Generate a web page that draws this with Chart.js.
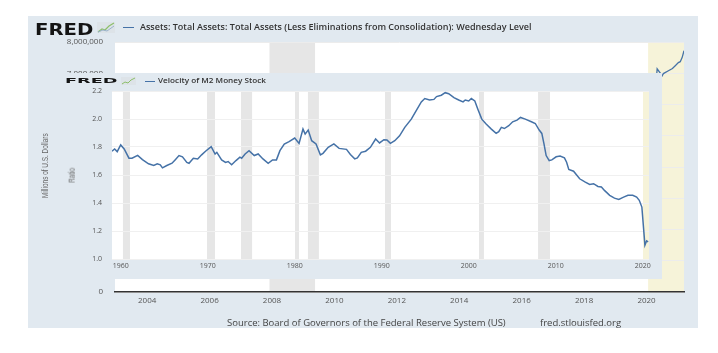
<!DOCTYPE html>
<html>
<head>
<meta charset="utf-8">
<script src="https://cdn.jsdelivr.net/npm/chart.js@4"></script>
<style>
  body { margin: 0; background: #fff; width: 718px; height: 353px; overflow: hidden; font-family: "Open Sans", sans-serif; position: relative; }
  .panel { position: absolute; background: #e1e9f0; }
  #outer { left: 28px; top: 16px; width: 670px; height: 312px; }
  #inset { left: 55px; top: 73px; width: 607px; height: 206px; }
  canvas { position: absolute; left: 0; top: 0; }
  .abs { position: absolute; white-space: nowrap; }
  .logo { font-family: "DejaVu Sans", sans-serif; font-weight: bold; color: #141414; transform-origin: 0 0; line-height: 1; }
  .ttl { font-weight: 600; color: #333; line-height: 1; transform-origin: 0 50%; }
  .dash { position: absolute; height: 1.2px; background: #4572a7; }
  .rot { color: #666; transform-origin: 50% 50%; line-height: 1; font-family: "Liberation Sans", sans-serif; }
  .src { color: #444; font-size: 9.5px; line-height: 1; }
</style>
</head>
<body>
<div id="outer" class="panel"><canvas id="outerCanvas" width="670" height="312"></canvas></div>
<div id="inset" class="panel"><canvas id="insetCanvas" width="607" height="206"></canvas></div>

<!-- outer header -->
<div class="abs logo" id="logo1" style="left:35px;top:22.5px;font-size:15px;">FRED</div>
<svg class="abs" style="left:97px;top:22px" width="18" height="11"><rect width="18" height="11" fill="#dde3e8"/><polyline points="1,10 5,7 8,8 12,4 17,1" fill="none" stroke="#8cbf6a" stroke-width="1.2"/><polyline points="1,10 6,8 10,9 17,4" fill="none" stroke="#9bb3cc" stroke-width="1"/></svg>
<div class="dash" style="left:123px;top:27px;width:11px;"></div>
<div class="abs ttl" id="title1" style="left:140px;top:23px;font-size:8.5px;">Assets: Total Assets: Total Assets (Less Eliminations from Consolidation): Wednesday Level</div>

<!-- inset header -->
<div class="abs logo" id="logo2" style="left:65px;top:76.5px;font-size:10px;">FRED</div>
<svg class="abs" style="left:121px;top:77px" width="15" height="8"><rect width="15" height="8" fill="#dde3e8"/><polyline points="1,7 4,5 7,6 10,3 14,1" fill="none" stroke="#8cbf6a" stroke-width="1"/></svg>
<div class="dash" style="left:145px;top:80.5px;width:10px;"></div>
<div class="abs ttl" id="title2" style="left:158px;top:77px;font-size:7.5px;">Velocity of M2 Money Stock</div>

<!-- axis titles -->
<div class="abs rot" id="ytitle1" style="font-size:9.5px;">Millions of U.S. Dollars</div>
<div class="abs rot" id="ytitle2" style="font-size:8.5px;">Ratio</div>

<!-- source line -->
<div class="abs src" style="left:227px;top:318px;">Source: Board of Governors of the Federal Reserve System (US)</div>
<div class="abs src" style="left:540px;top:318px;">fred.stlouisfed.org</div>

<script>
"use strict"

// outer chart: total assets (millions of dollars), weekly level
const assetYears = [2002.97, 2003.5, 2004.5, 2005.5, 2006.5, 2007.5, 2007.95, 2008.7, 2008.9, 2009.1, 2009.5,
  2010.2, 2010.9, 2011.5, 2012.5, 2013.0, 2014.0, 2014.8, 2016.0, 2017.8, 2019.0, 2019.7, 2019.95,
  2020.15, 2020.22, 2020.28, 2020.34, 2020.5, 2020.54, 2020.7, 2020.83, 2020.92, 2021.02, 2021.08, 2021.14, 2021.2]
const assetValues = [720000, 750000, 790000, 830000, 860000, 880000, 890000, 1000000, 2200000, 1950000, 2050000,
  2300000, 2400000, 2870000, 2850000, 2950000, 4000000, 4500000, 4480000, 4450000, 4050000, 3760000, 4170000,
  4300000, 5300000, 6400000, 7140000, 6920000, 6990000, 7080000, 7150000, 7240000, 7340000, 7370000, 7500000, 7720000]
const outerXTicks = [2004, 2006, 2008, 2010, 2012, 2014, 2016, 2018, 2020]

// inset chart: velocity of M2 (ratio), quarterly
const m2vYears = [1959.0, 1959.3, 1959.6, 1960.0, 1960.4, 1960.95, 1961.3, 1961.95, 1962.5, 1963.2, 1963.8,
  1964.2, 1964.55, 1964.8, 1965.3, 1965.9, 1966.25, 1966.7, 1967.1, 1967.6, 1967.85, 1968.35, 1968.85,
  1969.3, 1969.75, 1970.4, 1970.85, 1971.05, 1971.6, 1972.05, 1972.35, 1972.75, 1973.25, 1973.7, 1973.9,
  1974.3, 1974.75, 1975.35, 1975.8, 1976.35, 1976.95, 1977.45, 1977.9, 1978.3, 1978.8, 1979.35, 1980.0,
  1980.5, 1980.95, 1981.2, 1981.55, 1981.95, 1982.45, 1982.95, 1983.25, 1983.85, 1984.5, 1985.1, 1985.95,
  1986.4, 1986.9, 1987.2, 1987.65, 1988.15, 1988.7, 1989.3, 1989.75, 1990.25, 1990.6, 1991.0, 1991.5,
  1992.05, 1992.65, 1993.4, 1993.95, 1994.55, 1994.95, 1995.5, 1996.0, 1996.3, 1996.85, 1997.3, 1997.7,
  1998.3, 1998.85, 1999.35, 1999.6, 2000.0, 2000.3, 2000.7, 2001.05, 2001.5, 2002.0, 2002.6, 2003.15,
  2003.45, 2003.75, 2004.1, 2004.6, 2005.05, 2005.55, 2005.95, 2006.5, 2007.2, 2007.65, 2008.1, 2008.4,
  2008.65, 2008.9, 2009.25, 2009.55, 2010.05, 2010.5, 2011.0, 2011.25, 2011.5, 2012.05, 2012.75, 2013.4,
  2013.9, 2014.35, 2014.85, 2015.25, 2015.6, 2016.2, 2016.75, 2017.25, 2017.8, 2018.3, 2018.85, 2019.3,
  2019.6, 2019.9, 2020.25, 2020.45, 2020.62]
const m2vValues = [1.77, 1.786, 1.767, 1.815, 1.786, 1.72, 1.72, 1.74, 1.71, 1.68, 1.668,
  1.68, 1.673, 1.651, 1.668, 1.684, 1.708, 1.739, 1.73, 1.69, 1.684, 1.72, 1.715,
  1.744, 1.77, 1.803, 1.75, 1.762, 1.708, 1.69, 1.696, 1.673, 1.703, 1.727, 1.72,
  1.75, 1.774, 1.739, 1.75, 1.715, 1.684, 1.708, 1.708, 1.774, 1.82, 1.838, 1.864,
  1.826, 1.928, 1.892, 1.921, 1.845, 1.822, 1.744, 1.755, 1.798, 1.822, 1.79, 1.783,
  1.746, 1.715, 1.722, 1.762, 1.77, 1.798, 1.857, 1.829, 1.852, 1.85, 1.826, 1.845,
  1.88, 1.94, 1.999, 2.058, 2.122, 2.146, 2.136, 2.14, 2.16, 2.17, 2.188, 2.181,
  2.153, 2.136, 2.122, 2.136, 2.129, 2.146, 2.129, 2.07, 1.999, 1.964, 1.928, 1.897,
  1.909, 1.94, 1.932, 1.952, 1.98, 1.992, 2.011, 1.999, 1.98, 1.968, 1.921, 1.897,
  1.822, 1.739, 1.703, 1.708, 1.73, 1.736, 1.722, 1.691, 1.639, 1.627, 1.573, 1.549,
  1.533, 1.538, 1.518, 1.514, 1.49, 1.455, 1.435, 1.426, 1.442, 1.455, 1.455, 1.442,
  1.419, 1.371, 1.099, 1.13, 1.123]
const insetXTicks = [1960, 1970, 1980, 1990, 2000, 2010, 2020]

// shaded recessions
const outerBandStart = [2007.92, 2020.05]
const outerBandEnd = [2009.38, 2021.2]
const insetBandStart = [1960.26, 1969.92, 1973.83, 1980.03, 1981.52, 1990.38, 2001.18, 2007.97, 2020.03]
const insetBandEnd = [1961.07, 1970.84, 1975.1, 1980.49, 1982.78, 1991.07, 2001.75, 2009.34, 2020.72]

const GRAY = '#e6e6e6'
const YELLOW = '#f6f3d9'

// white plot area + recession bands, drawn under grid and line
const shadePlugin = {
    id: 'shade',
    beforeDraw(chart, args, opts) {
        const {ctx, chartArea: a, scales: {x}} = chart
        ctx.save()
        ctx.fillStyle = '#ffffff'
        ctx.fillRect(a.left, a.top, a.right - a.left, a.bottom - a.top)
        opts.starts.forEach((s, i) => {
            const x0 = Math.max(a.left, x.getPixelForValue(s))
            const x1 = Math.min(a.right, x.getPixelForValue(opts.ends[i]))
            ctx.fillStyle = opts.colors[i]
            ctx.fillRect(x0, a.top, x1 - x0, a.bottom - a.top)
        })
        ctx.restore()
    }
}

const tickFont = {family: 'Open Sans', size: 8}

new Chart(document.getElementById('outerCanvas'), {
    type: 'line',
    data: {
        datasets: [{
            data: assetYears.map((v, i) => ({x: v, y: assetValues[i]})),
            borderColor: '#4572a7',
            borderWidth: 1.3,
            pointRadius: 0,
            tension: 0
        }]
    },
    options: {
        responsive: false,
        animation: false,
        layout: {padding: {top: 26, right: 14, left: 0, bottom: 0}},
        plugins: {
            legend: {display: false},
            tooltip: {enabled: false},
            shade: {starts: outerBandStart, ends: outerBandEnd, colors: [GRAY, YELLOW]}
        },
        scales: {
            x: {
                type: 'linear',
                min: 2002.97,
                max: 2021.2,
                afterBuildTicks: s => { s.ticks = outerXTicks.map(v => ({value: v})) },
                afterFit: s => { s.height = 36 },
                grid: {display: false, drawTicks: false},
                border: {color: '#333', width: 1.5},
                ticks: {font: tickFont, color: '#555', padding: 4, callback: v => String(v)}
            },
            y: {
                min: 0,
                max: 8000000,
                afterFit: s => { s.width = 87 },
                grid: {color: '#ececec', drawTicks: false},
                border: {display: false},
                ticks: {stepSize: 1000000, font: tickFont, color: '#555', padding: 12,
                    callback: v => v.toLocaleString('en-US')}
            }
        }
    },
    plugins: [shadePlugin]
})

new Chart(document.getElementById('insetCanvas'), {
    type: 'line',
    data: {
        datasets: [{
            data: m2vYears.map((v, i) => ({x: v, y: m2vValues[i]})),
            borderColor: '#4572a7',
            borderWidth: 1.5,
            pointRadius: 0,
            tension: 0
        }]
    },
    options: {
        responsive: false,
        animation: false,
        layout: {padding: {top: 18, right: 13, left: 0, bottom: 0}},
        plugins: {
            legend: {display: false},
            tooltip: {enabled: false},
            shade: {starts: insetBandStart, ends: insetBandEnd,
                colors: insetBandStart.map((s, i) => i === insetBandStart.length - 1 ? YELLOW : GRAY)}
        },
        scales: {
            x: {
                type: 'linear',
                min: 1959.0,
                max: 2020.72,
                afterBuildTicks: s => { s.ticks = insetXTicks.map(v => ({value: v})) },
                afterFit: s => { s.height = 20 },
                grid: {display: false, drawTicks: false},
                border: {display: false},
                ticks: {font: {family: 'Open Sans', size: 7}, color: '#555', padding: 3, callback: v => String(v)}
            },
            y: {
                min: 1.0,
                max: 2.2,
                afterFit: s => { s.width = 57 },
                grid: {color: '#f0f0f0', drawTicks: false},
                border: {display: false},
                ticks: {stepSize: 0.2, font: {family: 'Open Sans', size: 7}, color: '#555', padding: 10,
                    callback: v => v.toFixed(1)}
            }
        }
    },
    plugins: [shadePlugin]
})

// stretch / squeeze header and rotated titles to the widths seen in the picture
function fitWidth(id, w, extra) {
    const el = document.getElementById(id)
    const k = w / el.offsetWidth
    el.style.transform = 'scaleX(' + k + ')' + (extra || '')
}
fitWidth('logo1', 59)
fitWidth('logo2', 53, ' scaleY(0.75)')
fitWidth('title1', 392)
fitWidth('title2', 108)

function placeRotated(id, cx, cy, len) {
    const el = document.getElementById(id)
    const w = el.offsetWidth, h = el.offsetHeight
    el.style.left = (cx - w / 2) + 'px'
    el.style.top = (cy - h / 2) + 'px'
    el.style.transform = 'rotate(-90deg) scaleX(' + (len / w) + ')'
}
placeRotated('ytitle1', 45, 166, 65)
placeRotated('ytitle2', 72, 175, 15)
</script>
</body>
</html>
